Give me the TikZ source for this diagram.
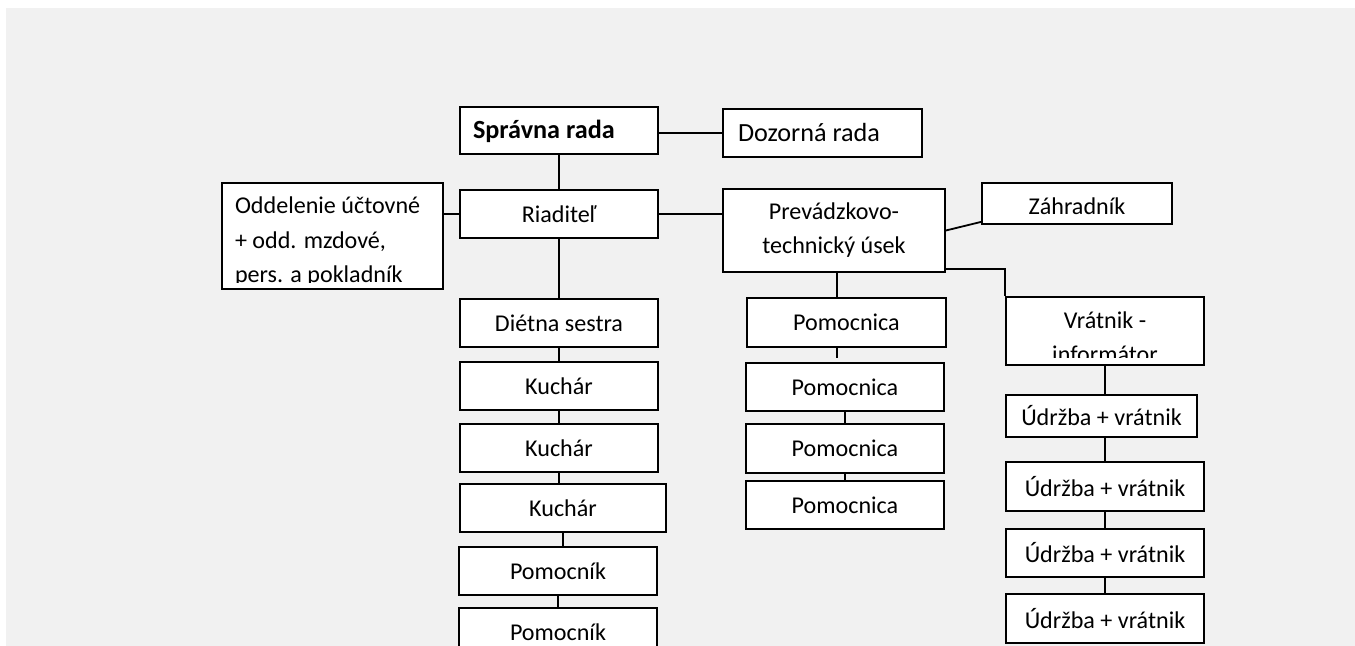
\documentclass[tikz,border=0pt]{standalone}
\usepackage{fontspec}
\setmainfont{Carlito}
\newcommand{\txtsize}{\fontsize{12.05pt}{17pt}\selectfont}
\newcommand{\bigsize}{\fontsize{13.1pt}{17pt}\selectfont}
\definecolor{pagegray}{HTML}{F1F1F1}

\begin{document}
\begin{tikzpicture}[x=0.5pt, y=-0.5pt,
  box/.style={draw, fill=white, line width=0.9pt, inner sep=0pt, font=\txtsize, align=flush center},
  unit/.style={box, minimum width=99pt, minimum height=24pt},
  txt/.style={inner sep=0pt, font=\txtsize},
  link/.style={line width=0.9pt}]
\clip (0,0) rectangle (1355,646);
\fill[white] (0,0) rectangle (1355,646);
\fill[pagegray] (6,8) rectangle (1355,646);

% top
\node[box, minimum width=99pt, minimum height=23.5pt, text width=86pt, align=flush left, font=\bigsize\bfseries, text depth=1pt] (rada) at (559,130.5){Správna rada};
\node[box, minimum width=99.5pt, minimum height=24pt, text width=84.5pt, align=flush left, font=\bigsize] (dozor) at (822.5,133){Dozorná rada};

\node[unit] (riad) at (559,214){Riaditeľ};

\node[box, minimum width=110.5pt, minimum height=53pt] (oddel) at (332.5,236){};
\begin{scope}
\clip (oddel.north west) rectangle ([yshift=3.5pt]oddel.south east);
\node[txt, text width=97.5pt, align=flush left] (oddeltxt) at ([yshift=-2.75pt]oddel.center){Oddelenie účtovné\\[0.5pt]+ odd. mzdové,\\pers. a pokladník};
\end{scope}

\node[box, minimum width=111pt, minimum height=41.5pt] (prev) at (834,230.5){Prevádzkovo-\\technický úsek};
\node[box, minimum width=95pt, minimum height=20.5pt, text height=11pt, text depth=0pt] (zahr) at (1077,203.5){Záhradník};

\node[box, minimum width=99pt, minimum height=34pt] (vrat) at (1105,331){};
\begin{scope}
\clip (vrat.north west) rectangle ([yshift=4pt]vrat.south east);
\node[txt, align=flush center] (vrattxt) at ([yshift=-3pt]vrat.center){Vrátnik -\\informátor};
\end{scope}

% left column
\node[unit] (diet) at (559,323){Diétna sestra};
\node[unit] (kuch1) at (559,386){Kuchár};
\node[unit] (kuch2) at (559,448){Kuchár};
\node[unit, minimum width=103pt] (kuch3) at (563,508){Kuchár};
\node[unit] (pomn1) at (558,571){Pomocník};
\node[unit] (pomn2) at (558,632){Pomocník};

% middle column
\node[unit, minimum width=99.5pt, minimum height=24.5pt] (pomc1) at (846.5,322.5){Pomocnica};
\node[unit] (pomc2) at (845,387){Pomocnica};
\node[unit, minimum height=24.5pt] (pomc3) at (845,448.5){Pomocnica};
\node[unit] (pomc4) at (845,505){Pomocnica};

% right column
\node[box, minimum width=95.5pt, minimum height=21pt] (udr1) at (1101.5,416){Údržba + vrátnik};
\node[unit, minimum height=24.5pt] (udr2) at (1105,486.5){Údržba + vrátnik};
\node[unit] (udr3) at (1105,553){Údržba + vrátnik};
\node[unit, minimum height=24.5pt] (udr4) at (1105,618.5){Údržba + vrátnik};

\coordinate (gap) at (837,358);

\draw[link](rada) -- (riad);
\draw[link](dozor.west -| rada.east) -- (dozor.west);
\draw[link](riad.west -| oddel.east) -- (riad.west);
\draw[link](riad.east) -- (riad.east -| prev.west);
\draw[link](prev.east) -- ([yshift=1.5pt]zahr.south west);
\draw[link]([yshift=2pt]prev.south east) -| (vrat.north west);

\draw[link](riad) -- (diet);
\draw[link](diet) -- (kuch1);
\draw[link](kuch1) -- (kuch2);
\draw[link](kuch2.south) -- (kuch2.south |- kuch3.north);
\draw[link](kuch3.south) -- (kuch3.south |- pomn1.north);
\draw[link](pomn1) -- (pomn2);

\draw[link](gap |- prev.south) -- (gap |- pomc1.north);
\draw[link](gap |- pomc1.south) -- (gap);
\draw[link](pomc2) -- (pomc3);
\draw[link](pomc3) -- (pomc4);

\draw[link](vrat.south) -- (vrat.south |- udr1.north);
\draw[link](udr2.north |- udr1.south) -- (udr2.north);
\draw[link](udr2) -- (udr3);
\draw[link](udr3) -- (udr4);

\end{tikzpicture}
\end{document}
